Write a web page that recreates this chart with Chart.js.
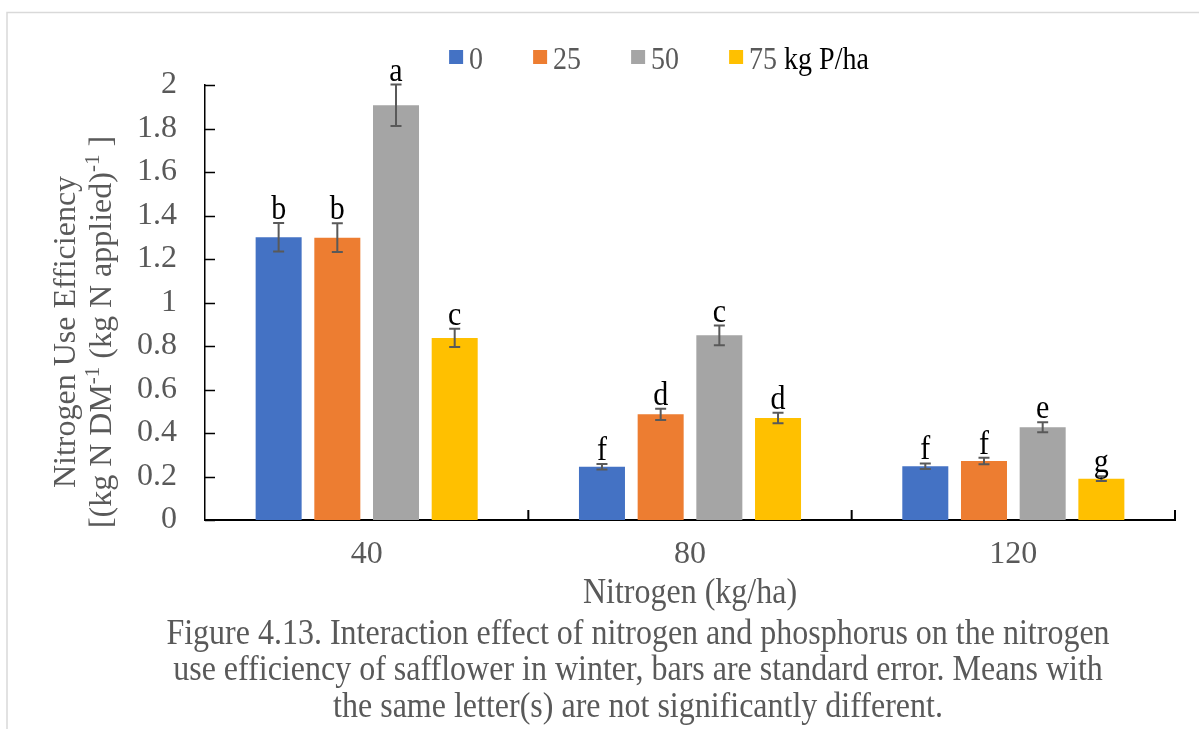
<!DOCTYPE html>
<html>
<head>
<meta charset="utf-8">
<script src="https://cdn.jsdelivr.net/npm/chart.js@4"></script>
<style>
  html, body { margin: 0; padding: 0; background: #fff; }
  #wrap { width: 1199px; height: 729px; }
</style>
</head>
<body>
<div id="wrap"><canvas id="c" width="1199" height="729"></canvas></div>
<script>
// Nitrogen rates (kg/ha) on the x axis, phosphorus rates (kg P/ha) as series
const nitrogenRates = ['40', '80', '120'];
const phosphorusRates = ['0', '25', '50', '75'];

// Nitrogen use efficiency means, one array per phosphorus rate
const nueP0  = [1.300, 0.245, 0.247];
const nueP25 = [1.298, 0.486, 0.271];
const nueP50 = [1.907, 0.849, 0.426];
const nueP75 = [0.837, 0.469, 0.190];

// Standard errors
const seP0  = [0.066, 0.013, 0.013];
const seP25 = [0.066, 0.026, 0.015];
const seP50 = [0.095, 0.045, 0.023];
const seP75 = [0.042, 0.024, 0.011];

// Mean separation letters
const lettersP0  = ['b', 'f', 'f'];
const lettersP25 = ['b', 'd', 'f'];
const lettersP50 = ['a', 'c', 'e'];
const lettersP75 = ['c', 'd', 'g'];

const yTicks = [0, 0.2, 0.4, 0.6, 0.8, 1, 1.2, 1.4, 1.6, 1.8, 2];

const seriesColors = ['#4472C4', '#ED7D31', '#A5A5A5', '#FFC000'];
const FONT = '"Liberation Serif", "Times New Roman", serif';
const GREY = '#595959';

const seriesValues = [nueP0, nueP25, nueP50, nueP75];
const seriesErrors = [seP0, seP25, seP50, seP75];
const seriesLetters = [lettersP0, lettersP25, lettersP50, lettersP75];

// text drawn slightly taller than wide, like the rest of the figure
function tallText(ctx, text, x, y) {
  ctx.save();
  ctx.translate(x, y);
  ctx.scale(1, 1.1);
  ctx.fillText(text, 0, 0);
  ctx.restore();
}

// white page with the thin frame of the figure box
const framePlugin = {
  id: 'frame',
  beforeDraw(chart) {
    const ctx = chart.ctx;
    ctx.save();
    ctx.fillStyle = '#fff';
    ctx.fillRect(0, 0, chart.width, chart.height);
    ctx.strokeStyle = '#d9d9d9';
    ctx.lineWidth = 1.5;
    ctx.beginPath();
    ctx.moveTo(7, chart.height);
    ctx.lineTo(7, 12.5);
    ctx.lineTo(chart.width, 12.5);
    ctx.stroke();
    ctx.restore();
  }
};

// inward tick marks on both axes
const innerTicksPlugin = {
  id: 'innerTicks',
  afterDraw(chart) {
    const ctx = chart.ctx;
    const x = chart.scales.x, y = chart.scales.y;
    ctx.save();
    ctx.strokeStyle = '#000';
    ctx.lineWidth = 1.5;
    ctx.beginPath();
    yTicks.forEach(v => {
      const py = Math.round(y.getPixelForValue(v)) + 0.5;
      ctx.moveTo(x.left, py);
      ctx.lineTo(x.left + 10, py);
    });
    ctx.stroke();
    ctx.lineWidth = 2;
    ctx.beginPath();
    const half = (x.getPixelForValue(1) - x.getPixelForValue(0)) / 2;
    for (let i = 1; i <= nitrogenRates.length; i++) {
      const px = x.getPixelForValue(i) - half;
      ctx.moveTo(px, y.bottom);
      ctx.lineTo(px, y.bottom - 10);
    }
    ctx.stroke();
    ctx.restore();
  }
};

// standard error bars and letters above each bar
const errorBarPlugin = {
  id: 'errorBars',
  afterDatasetsDraw(chart) {
    const ctx = chart.ctx;
    const y = chart.scales.y;
    ctx.save();
    chart.data.datasets.forEach((ds, di) => {
      const meta = chart.getDatasetMeta(di);
      meta.data.forEach((bar, i) => {
        const v = ds.data[i];
        const se = seriesErrors[di][i];
        const top = y.getPixelForValue(v + se);
        const bot = y.getPixelForValue(v - se);
        ctx.strokeStyle = GREY;
        ctx.lineWidth = 2;
        ctx.beginPath();
        ctx.moveTo(bar.x, top);
        ctx.lineTo(bar.x, bot);
        ctx.moveTo(bar.x - 5.5, top);
        ctx.lineTo(bar.x + 5.5, top);
        ctx.moveTo(bar.x - 5.5, bot);
        ctx.lineTo(bar.x + 5.5, bot);
        ctx.stroke();
        ctx.fillStyle = '#000';
        ctx.font = '30px ' + FONT;
        ctx.textAlign = 'center';
        ctx.textBaseline = 'alphabetic';
        tallText(ctx, seriesLetters[di][i], bar.x, top - 4);
      });
    });
    ctx.restore();
  }
};

// legend row, axis titles and the figure caption
const textPlugin = {
  id: 'texts',
  afterDraw(chart) {
    const ctx = chart.ctx;
    ctx.save();
    ctx.textBaseline = 'alphabetic';
    ctx.textAlign = 'left';

    // legend
    ctx.font = '28px ' + FONT;
    const box = 14, gapText = 6, gapItem = 50, suffix = ' kg P/ha';
    const widths = phosphorusRates.map(t => ctx.measureText(t).width);
    const sufW = ctx.measureText(suffix).width;
    let total = 0;
    widths.forEach((w, i) => { total += box + gapText + w + (i < widths.length - 1 ? gapItem : 0); });
    total += sufW;
    let lx = 659 - total / 2;
    chart.data.datasets.forEach((ds, i) => {
      ctx.fillStyle = ds.backgroundColor;
      ctx.fillRect(lx, 50, box, box);
      ctx.fillStyle = GREY;
      tallText(ctx, phosphorusRates[i], lx + box + gapText, 68.5);
      lx += box + gapText + widths[i];
      if (i === phosphorusRates.length - 1) {
        ctx.fillStyle = '#000';
        tallText(ctx, suffix, lx, 68.5);
      }
      lx += gapItem;
    });

    // y axis title, two lines with superscripts
    const small = '21px ' + FONT, big = '32px ' + FONT;
    const yc = 332;
    ctx.fillStyle = GREY;
    ctx.save();
    ctx.translate(75, yc);
    ctx.rotate(-Math.PI / 2);
    ctx.textAlign = 'center';
    ctx.font = big;
    ctx.fillText('Nitrogen Use Efficiency', 0, 0);
    ctx.restore();

    const parts = [
      ['[(kg N DM', big, 0], ['-1', small, -12], [' (kg N applied)', big, 0], ['-1', small, -12], [' ]', big, 0]
    ];
    let w2 = 0;
    parts.forEach(p => { ctx.font = p[1]; w2 += ctx.measureText(p[0]).width; });
    ctx.save();
    ctx.translate(111, yc);
    ctx.rotate(-Math.PI / 2);
    ctx.textAlign = 'left';
    let px = -w2 / 2;
    parts.forEach(p => {
      ctx.font = p[1];
      ctx.fillText(p[0], px, p[2]);
      px += ctx.measureText(p[0]).width;
    });
    ctx.restore();

    // x axis title
    ctx.font = big;
    ctx.textAlign = 'center';
    ctx.fillStyle = GREY;
    const xs = chart.scales.x;
    tallText(ctx, 'Nitrogen (kg/ha)', (xs.left + xs.right) / 2, 603);

    // caption
    const cap = [
      'Figure 4.13. Interaction effect of nitrogen and phosphorus on the nitrogen',
      'use efficiency of safflower in winter, bars are standard error. Means with',
      'the same letter(s) are not significantly different.'
    ];
    cap.forEach((line, i) => tallText(ctx, line, 638, 644 + i * 36.3));
    ctx.restore();
  }
};

new Chart(document.getElementById('c'), {
  type: 'bar',
  data: {
    labels: nitrogenRates,
    datasets: phosphorusRates.map((p, i) => ({
      label: p,
      data: seriesValues[i],
      backgroundColor: seriesColors[i],
      borderWidth: 0,
      barPercentage: 0.784,
      categoryPercentage: 0.726
    }))
  },
  options: {
    responsive: false,
    animation: false,
    devicePixelRatio: 1,
    layout: { padding: { top: 85, right: 24, left: 0, bottom: 0 } },
    plugins: { legend: { display: false }, tooltip: { enabled: false } },
    scales: {
      x: {
        grid: { display: false, drawTicks: false },
        border: { display: true, color: '#000', width: 2 },
        ticks: { color: GREY, font: { family: FONT, size: 32 }, padding: 15 },
        afterFit(s) { s.height = 209; }
      },
      y: {
        min: 0, max: 2,
        afterBuildTicks(s) { s.ticks = yTicks.map(v => ({ value: v })); },
        grid: { display: false, drawTicks: false },
        border: { display: true, color: '#000', width: 1.5 },
        ticks: {
          color: GREY, font: { family: FONT, size: 32 }, padding: 28,
          callback: v => String(+v.toFixed(1))
        },
        afterFit(s) { s.width = 205; }
      }
    }
  },
  plugins: [framePlugin, innerTicksPlugin, errorBarPlugin, textPlugin]
});
</script>
</body>
</html>
